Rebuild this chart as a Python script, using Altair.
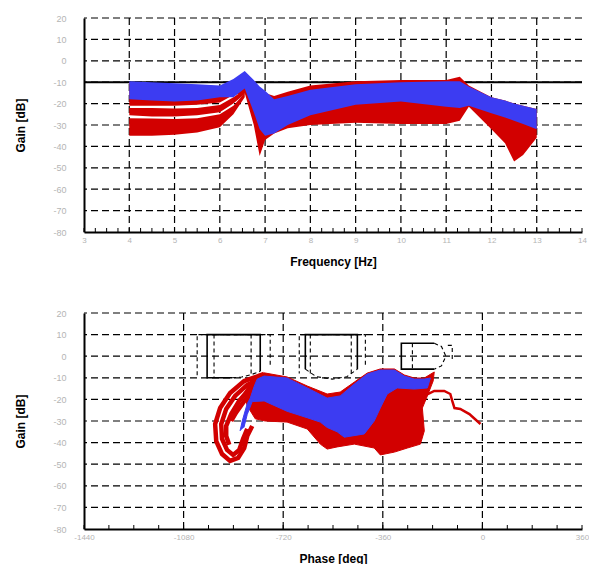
import altair as alt
import numpy as np
import pandas as pd

RED = "#d20000"
BLUE = "#3c3cf2"
LABEL_GREY = "#b4b4b4"
FONT = "Liberation Sans"

# ---------------- Gain vs frequency: Monte Carlo envelopes ----------------
FREQ = [4.0, 4.5, 5.0, 5.5, 6.0, 6.3, 6.55, 6.75, 6.88, 7.0, 7.2, 7.5, 8.0,
        9.0, 10.0, 11.0, 11.3, 11.5, 12.0, 12.3, 12.5, 12.7, 13.0]
BLUE_HI = [-9.5, -10, -10.5, -11, -11.5, -8.5, -4.8, -9, -12, -14, -18, -16.5,
           -13.5, -11, -10, -9.5, -9.5, -12, -17, -18.5, -20, -21, -22.5]
BLUE_LO = [-18, -18.5, -19, -18.5, -17, -17, -13, -24, -32, -35, -34, -30,
           -25.5, -20.5, -19, -21.5, -22, -21, -24.5, -26.5, -28, -29.5, -32]
RED_HI = [-10, -10.5, -11, -11.5, -12, -9, -5.5, -10, -13, -15, -16.5, -14.5,
          -11.5, -9.5, -9, -9, -7.5, -11.5, -17, -18.5, -20, -21, -22.5]
RED_LO = [-21, -21, -21, -20.5, -19.5, -16, -15, -30, -44.5, -37, -34, -31.5,
          -30, -29, -29.5, -29.5, -28, -21.5, -32, -38.5, -47, -44, -36]

# lower family of red responses below 6.6 Hz
FREQ_LOW = [4.0, 4.5, 5.0, 5.5, 6.0, 6.3, 6.55]
STRIPE1_HI = [-22, -22, -22.3, -22, -20.6, -17, -13.5]
STRIPE1_LO = [-25.5, -26, -26, -25.5, -24, -20, -15.5]
STRIPE2_HI = [-26.8, -27, -27.2, -26.8, -25, -21, -15]
STRIPE2_LO = [-35, -35, -34.5, -33.5, -31, -25, -17]

# ---------------- Gain vs phase (Nichols) ----------------
BLUE_PH = [-876, -868, -861, -850, -839, -825, -814, -789, -706, -633, -561, -514,
           -463, -416, -369, -318, -282, -246, -210, -188,
           -199, -246, -308, -344, -369, -391, -427, -499, -525, -561, -586,
           -633, -706, -789, -832, -850, -862]
BLUE_GN = [-34.6, -30, -26.8, -22, -19.4, -14, -10.6, -9.2, -10.1, -14.7, -19.4, -18.4,
           -12.9, -8.2, -6.4, -6.4, -9.2, -10.6, -10.6, -10.1,
           -14.7, -15.2, -14.7, -17.5, -24, -30, -36, -37.5, -35, -33, -30.5,
           -28.5, -25.5, -20.7, -21, -27, -33]

RED_PH = [-789, -706, -633, -561, -514, -463, -416, -369, -318, -282, -246, -210,
          -174, -178, -199, -217, -210, -224, -271, -318, -369, -391, -463, -525,
          -561, -586, -633, -706, -785, -821, -850, -861, -832, -807]
RED_GN = [-7.7, -9.6, -13.8, -17.5, -16.6, -12, -7.8, -5.9, -5.9, -8.7, -10.1, -10.1,
          -7.3, -11.5, -18.4, -24, -34.6, -40.7, -42.5, -44.4, -45.7, -42.5, -40.7, -42,
          -43, -40.7, -33.7, -30.5, -30, -29, -23, -17, -10.6, -8.2]

HOOK1_PH = [-789, -861, -912, -948, -966, -962, -941, -912, -883, -861, -850, -832]
HOOK1_GN = [-8.2, -11.5, -17, -24, -31.4, -39.3, -45.3, -48.5, -47.1, -42.5, -37, -32.3]
HOOK2_PH = [-789, -850, -894, -926, -944, -941, -923, -901, -879, -865, -850]
HOOK2_GN = [-9.6, -13.3, -18.4, -24.4, -31.4, -38.3, -43.4, -45.7, -43.4, -38.3, -33.7]
HOOK3_PH = [-796, -843, -879, -908, -926, -926, -915]
HOOK3_GN = [-10.6, -15.2, -20.7, -26.8, -32.3, -37, -41]
HOOK4_PH = [-800, -835, -865, -890, -908]
HOOK4_GN = [-12, -16.5, -21.5, -26, -30]

TAIL_PH = [-210, -174, -138, -116, -109, -101, -80, -47, -7]
TAIL_GN = [-18.4, -16.1, -16.1, -17.5, -20.7, -24, -24.4, -26.8, -31.4]

# stability boundary contours
SOLID_PATHS = {
    "a": ([-803, -803, -995, -995, -905], [-7, 10, 10, -10, -10]),
    "b": ([-452, -452, -640, -640], [-6, 10, 10, -6]),
    "c": ([-174, -293, -293, -174], [6, 6, -6, -6]),
}
DASHED_PATHS = {
    "a_curve": ([-905, -870, -835, -803], [-10, -9.6, -8.5, -7]),
    "a_outer": ([-767, -767, -1031, -1031], [-4, 10, 10, -10]),
    "a_in1": ([-970, -970], [10, -10]),
    "a_in2": ([-836, -836], [10, -8.5]),
    "b_curve": ([-640, -600, -543, -490, -452], [-6, -9.5, -10.6, -9.5, -6]),
    "b_outer": ([-423, -423, -662, -662], [-4, 10, 10, -8]),
    "b_in1": ([-622, -622], [10, -8]),
    "b_in2": ([-474, -474], [10, -8]),
    "c_curve": ([-174, -148, -132, -148, -174], [6, 4.5, 0, -4.5, -6]),
    "c_outer": ([-125, -109, -109], [5, 5, -2]),
    "c_in1": ([-253, -253], [6, -6]),
}

# axes
GAIN_TICKS = list(range(-80, 21, 10))
GAIN_GRID = list(range(-70, 21, 10))
FREQ_TICKS = list(range(3, 15))
FREQ_GRID = list(range(4, 14))
FREQ_MINOR = list(np.arange(3.0, 14.01, 0.25))
PHASE_TICKS = [-1440, -1080, -720, -360, 0, 360]
PHASE_GRID = [-1080, -720, -360, 0]
PHASE_MINOR = list(range(-1440, 361, 90))

W = 498
H_TOP = 214
H_BOT = 216

Y_SCALE = alt.Scale(domain=[-80, 20], nice=False, zero=False)
F_SCALE = alt.Scale(domain=[3, 14], nice=False, zero=False)
P_SCALE = alt.Scale(domain=[-1440, 360], nice=False, zero=False)

GRID_DASH = [7, 4]


def y_axis():
    return alt.Axis(values=GAIN_TICKS, grid=False, ticks=False, domain=True,
                    domainColor="black", domainWidth=2, labelOverlap=False,
                    labelColor=LABEL_GREY, labelFont=FONT, labelFontSize=9,
                    labelPadding=18, labelExpr="toString(datum.value)",
                    title="Gain [dB]", titleFont=FONT, titleFontSize=12,
                    titleFontWeight="bold", titleColor="black", titlePadding=25)


def x_axis(values, title):
    return alt.Axis(values=values, grid=False, ticks=False, domain=True,
                    domainColor="black", domainWidth=2, labelFlush=False,
                    labelOverlap=False,
                    labelColor=LABEL_GREY, labelFont=FONT, labelFontSize=8,
                    labelPadding=4, labelExpr="toString(datum.value)",
                    title=title, titleFont=FONT, titleFontSize=12,
                    titleFontWeight="bold", titleColor="black", titlePadding=12)


def axes_layer(xname, xscale, xticks, xtitle):
    # invisible layer that owns both axes of a panel
    df = pd.DataFrame({xname: xticks[:2], "g": GAIN_TICKS[:2]})
    return alt.Chart(df).mark_point(opacity=0).encode(
        x=alt.X(f"{xname}:Q", scale=xscale, axis=x_axis(xticks, xtitle)),
        y=alt.Y("g:Q", scale=Y_SCALE, axis=y_axis()),
    )


def frame_layers(xname, xscale, xgrid, xminor, height):
    hgrid = alt.Chart(pd.DataFrame({"g": GAIN_GRID})).mark_rule(
        color="black", strokeWidth=1.2, strokeDash=GRID_DASH
    ).encode(y=alt.Y("g:Q", scale=Y_SCALE, axis=None))
    vgrid = alt.Chart(pd.DataFrame({xname: xgrid})).mark_rule(
        color="black", strokeWidth=1.2, strokeDash=GRID_DASH
    ).encode(x=alt.X(f"{xname}:Q", scale=xscale, axis=None))
    minor = alt.Chart(pd.DataFrame({xname: xminor})).mark_rule(
        color="black", strokeWidth=1
    ).encode(x=alt.X(f"{xname}:Q", scale=xscale, axis=None),
             y=alt.value(height - 4), y2=alt.value(height))
    return hgrid, vgrid, minor


def poly_frame(ph, gn, name):
    return pd.DataFrame({"ph": ph, "gn": gn, "i": range(len(ph)), "id": name})


# ---------------- top panel ----------------
env = pd.DataFrame({"f": FREQ, "bhi": BLUE_HI, "blo": BLUE_LO,
                    "rhi": RED_HI, "rlo": RED_LO})
low = pd.DataFrame({"f": FREQ_LOW, "s1hi": STRIPE1_HI, "s1lo": STRIPE1_LO,
                    "s2hi": STRIPE2_HI, "s2lo": STRIPE2_LO})

hgrid_t, vgrid_t, minor_t = frame_layers("f", F_SCALE, FREQ_GRID, FREQ_MINOR, H_TOP)
ref_line = alt.Chart(pd.DataFrame({"g": [-10]})).mark_rule(
    color="black", strokeWidth=2
).encode(y=alt.Y("g:Q", scale=Y_SCALE, axis=None))


def band(df, hi, lo, color):
    return alt.Chart(df).mark_area(color=color, opacity=1).encode(
        x=alt.X("f:Q", scale=F_SCALE, axis=None),
        y=alt.Y(f"{hi}:Q", scale=Y_SCALE, axis=None), y2=f"{lo}:Q")


top = alt.layer(
    axes_layer("f", F_SCALE, FREQ_TICKS, "Frequency [Hz]"),
    hgrid_t, vgrid_t, ref_line,
    band(env, "rhi", "rlo", RED),
    band(low, "s1hi", "s1lo", RED),
    band(low, "s2hi", "s2lo", RED),
    band(env, "bhi", "blo", BLUE),
    minor_t,
).resolve_axis(x="independent", y="independent").properties(width=W, height=H_TOP)

# ---------------- bottom panel ----------------
hgrid_b, vgrid_b, minor_b = frame_layers("ph", P_SCALE, PHASE_GRID, PHASE_MINOR, H_BOT)

PX = alt.X("ph:Q", scale=P_SCALE, axis=None)
PY = alt.Y("gn:Q", scale=Y_SCALE, axis=None)

red_poly = alt.Chart(poly_frame(RED_PH, RED_GN, "red")).mark_line(
    color=RED, strokeWidth=1
).encode(x=PX, y=PY, order="i:Q", fill=alt.value(RED))

hooks = pd.concat([poly_frame(HOOK1_PH, HOOK1_GN, "h1"),
                   poly_frame(HOOK2_PH, HOOK2_GN, "h2"),
                   poly_frame(HOOK3_PH, HOOK3_GN, "h3"),
                   poly_frame(HOOK4_PH, HOOK4_GN, "h4")])
hook_lines = alt.Chart(hooks).mark_line(color=RED, strokeWidth=4.5).encode(
    x=PX, y=PY, order="i:Q", detail="id:N")

tail = alt.Chart(poly_frame(TAIL_PH, TAIL_GN, "tail")).mark_line(
    color=RED, strokeWidth=2.5
).encode(x=PX, y=PY, order="i:Q")

blue_poly = alt.Chart(poly_frame(BLUE_PH, BLUE_GN, "blue")).mark_line(
    color=BLUE, strokeWidth=1
).encode(x=PX, y=PY, order="i:Q", fill=alt.value(BLUE))

solid_df = pd.concat([poly_frame(p, g, k) for k, (p, g) in SOLID_PATHS.items()])
dashed_df = pd.concat([poly_frame(p, g, k) for k, (p, g) in DASHED_PATHS.items()])
solid_lines = alt.Chart(solid_df).mark_line(color="black", strokeWidth=1.6).encode(
    x=PX, y=PY, order="i:Q", detail="id:N")
dashed_lines = alt.Chart(dashed_df).mark_line(
    color="black", strokeWidth=1.1, strokeDash=[4, 3]
).encode(x=PX, y=PY, order="i:Q", detail="id:N")

bottom = alt.layer(
    axes_layer("ph", P_SCALE, PHASE_TICKS, "Phase [deg]"),
    hgrid_b, vgrid_b, red_poly, hook_lines, tail, blue_poly,
    solid_lines, dashed_lines, minor_b,
).resolve_axis(x="independent", y="independent").properties(width=W, height=H_BOT)

chart = alt.vconcat(top, bottom, spacing=42).properties(
    padding={"left": 14, "top": 14, "right": 0, "bottom": 0},
    background="white",
).configure_view(
    stroke=None
).configure_axis(
    labelOverlap=False, labelSeparation=0
)

chart.save("out.html", embed_options={"renderer": "svg", "actions": False})
